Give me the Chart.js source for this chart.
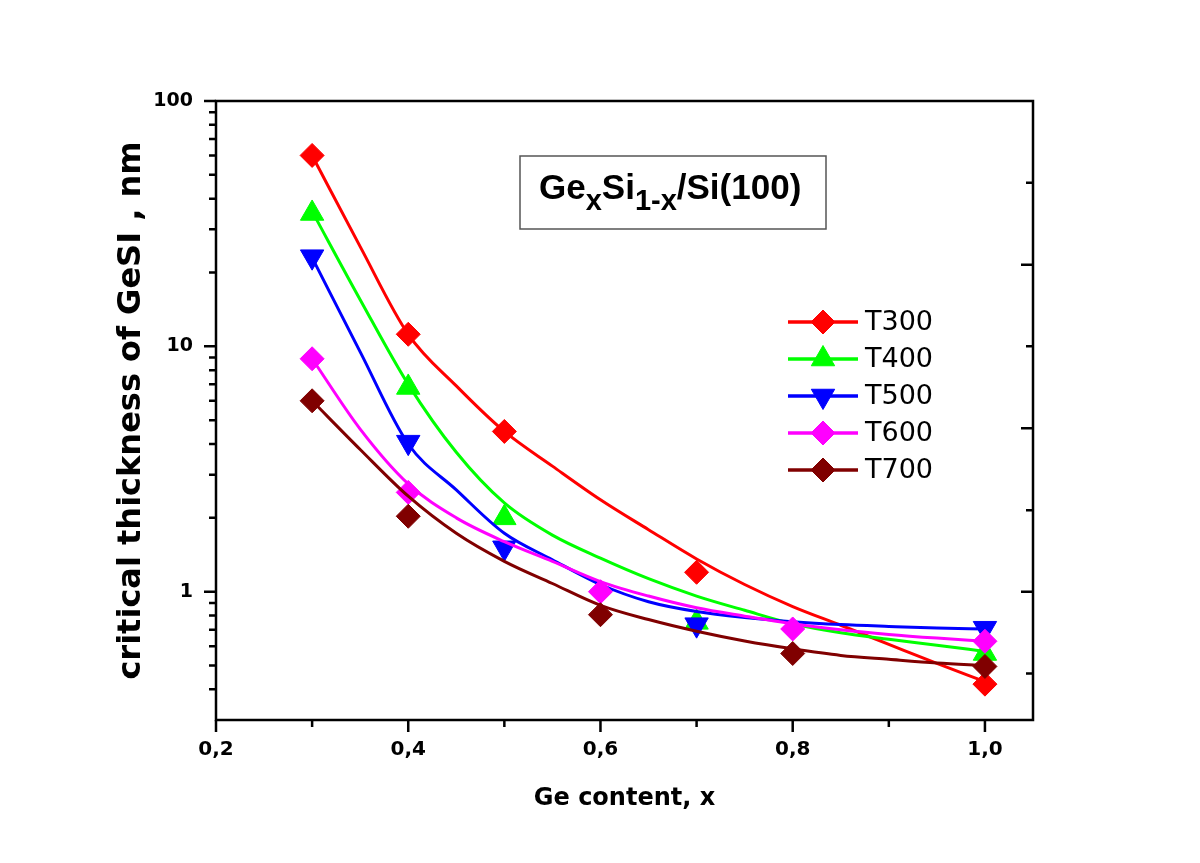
<!DOCTYPE html>
<html>
<head>
<meta charset="utf-8">
<script src="https://cdn.jsdelivr.net/npm/chart.js@4.4.1/dist/chart.umd.min.js"></script>
<style>
html,body{margin:0;padding:0;background:#ffffff;}
#wrap{width:1200px;height:863px;position:relative;}
</style>
</head>
<body>
<div id="wrap"><canvas id="c" width="1200" height="863"></canvas></div>
<script>
// ---------- data ----------
const seriesNames = ['T300', 'T400', 'T500', 'T600', 'T700'];

const t300X = [0.3, 0.4, 0.5, 0.7, 1.0];
const t300Y = [60, 11.2, 4.5, 1.2, 0.42];
const t400X = [0.3, 0.4, 0.5, 0.7, 1.0];
const t400Y = [34.8, 6.8, 2.0, 0.75, 0.56];
const t500X = [0.3, 0.4, 0.5, 0.7, 1.0];
const t500Y = [23.2, 4.07, 1.51, 0.734, 0.71];
const t600X = [0.3, 0.4, 0.6, 0.8, 1.0];
const t600Y = [8.9, 2.54, 1.0, 0.705, 0.628];
const t700X = [0.3, 0.4, 0.6, 0.8, 1.0];
const t700Y = [6.0, 2.03, 0.806, 0.56, 0.496];

// fitted curves
const fitX    = [0.30, 0.35, 0.40, 0.45, 0.50, 0.55, 0.60, 0.65, 0.70, 0.75, 0.80, 0.85, 0.90, 0.95, 1.00];
const t300Fit = [60, 25.5, 11.2, 6.9, 4.5, 3.25, 2.37, 1.79, 1.36, 1.07, 0.87, 0.73, 0.61, 0.51, 0.43];
const t400Fit = [35.5, 15.5, 7.0, 3.7, 2.3, 1.70, 1.37, 1.13, 0.96, 0.84, 0.74, 0.68, 0.64, 0.605, 0.571];
const t500Fit = [23, 9.5, 4.0, 2.6, 1.73, 1.35, 1.07, 0.91, 0.83, 0.785, 0.755, 0.735, 0.722, 0.711, 0.705];
const t600Fit = [8.9, 4.6, 2.75, 2.0, 1.6, 1.33, 1.1, 0.96, 0.86, 0.795, 0.74, 0.70, 0.67, 0.647, 0.628];
const t700Fit = [6.0, 3.8, 2.45, 1.73, 1.33, 1.08, 0.88, 0.77, 0.69, 0.63, 0.585, 0.55, 0.53, 0.512, 0.50];

// axis ticks
const xMajorTicks = [0.2, 0.4, 0.6, 0.8, 1.0];
const xMinorTicks = [0.3, 0.5, 0.7, 0.9];
const xTickLabels = ['0,2', '0,4', '0,6', '0,8', '1,0'];
const yMajorTicks = [1, 10, 100];
const yMinorTicks = [0.4, 0.5, 0.6, 0.7, 0.8, 0.9, 2, 3, 4, 5, 6, 7, 8, 9, 20, 30, 40, 50, 60, 70, 80, 90];
const yTickLabels = ['1', '10', '100'];
const rightMajorTicks = [1, 4.64, 21.5];
const rightMinorTicks = [0.464, 2.15, 10, 46.4];

const boxTitleRuns = [['Ge', false], ['x', true], ['Si', false], ['1-x', true], ['/Si(100)', false]];
const xTitle = 'Ge content, x';
const yTitle = 'critical thickness of GeSI , nm';

// ---------- styles ----------
const seriesColors = ['#ff0000', '#00ff00', '#0000ff', '#ff00ff', '#800000'];
const seriesSymbols = ['rectRot', 'triangle', 'triangle', 'rectRot', 'rectRot'];
const seriesRotation = [0, 0, 180, 0, 0];
const seriesRadius = [12, 13.5, 13.5, 12, 12];

const pointsX = [t300X, t400X, t500X, t600X, t700X];
const pointsY = [t300Y, t400Y, t500Y, t600Y, t700Y];
const fits = [t300Fit, t400Fit, t500Fit, t600Fit, t700Fit];

const datasets = [];
seriesNames.forEach((name, i) => {
  datasets.push({
    label: name + ' fit',
    data: fitX.map((x, j) => ({x: x, y: fits[i][j]})),
    showLine: true,
    borderColor: seriesColors[i],
    borderWidth: 3,
    pointRadius: 0,
    cubicInterpolationMode: 'monotone',
    fill: false,
    order: 20 - 2 * i
  });
  datasets.push({
    label: name,
    data: pointsX[i].map((x, j) => ({x: x, y: pointsY[i][j]})),
    showLine: false,
    pointStyle: seriesSymbols[i],
    pointRotation: seriesRotation[i],
    pointRadius: seriesRadius[i],
    pointBackgroundColor: seriesColors[i],
    pointBorderColor: seriesColors[i],
    pointBorderWidth: 1,
    order: 19 - 2 * i
  });
});

function drawMarker(ctx, style, rotation, radius, x, y) {
  if (Chart.helpers && Chart.helpers.drawPoint) {
    Chart.helpers.drawPoint(ctx, {pointStyle: style, rotation: rotation, radius: radius, borderWidth: 1}, x, y);
    return;
  }
  ctx.beginPath();
  if (style === 'rectRot') {
    ctx.moveTo(x - radius, y); ctx.lineTo(x, y - radius); ctx.lineTo(x + radius, y); ctx.lineTo(x, y + radius);
  } else {
    const s = rotation === 180 ? -1 : 1;
    ctx.moveTo(x, y - s * radius);
    ctx.lineTo(x + radius * Math.sqrt(3) / 2, y + s * radius / 2);
    ctx.lineTo(x - radius * Math.sqrt(3) / 2, y + s * radius / 2);
  }
  ctx.closePath(); ctx.fill(); ctx.stroke();
}

const framePlugin = {
  id: 'frameTicks',
  afterDraw(chart) {
    const ctx = chart.ctx;
    const a = chart.chartArea;
    const xs = chart.scales.x, ys = chart.scales.y;
    ctx.save();
    ctx.strokeStyle = '#000';
    ctx.lineWidth = 2.5;
    ctx.strokeRect(a.left, a.top, a.right - a.left, a.bottom - a.top);
    ctx.lineCap = 'butt';
    ctx.beginPath();
    xMajorTicks.forEach(v => { const p = xs.getPixelForValue(v); ctx.moveTo(p, a.bottom); ctx.lineTo(p, a.bottom + 12); });
    xMinorTicks.forEach(v => { const p = xs.getPixelForValue(v); ctx.moveTo(p, a.bottom); ctx.lineTo(p, a.bottom + 7); });
    yMajorTicks.forEach(v => { const p = ys.getPixelForValue(v); ctx.moveTo(a.left, p); ctx.lineTo(a.left - 12, p); });
    yMinorTicks.forEach(v => { const p = ys.getPixelForValue(v); ctx.moveTo(a.left, p); ctx.lineTo(a.left - 7, p); });
    rightMajorTicks.forEach(v => { const p = ys.getPixelForValue(v); ctx.moveTo(a.right, p); ctx.lineTo(a.right - 12, p); });
    rightMinorTicks.forEach(v => { const p = ys.getPixelForValue(v); ctx.moveTo(a.right, p); ctx.lineTo(a.right - 7, p); });
    ctx.stroke();
    ctx.restore();
  }
};

const overlayPlugin = {
  id: 'overlay',
  afterDatasetsDraw(chart) {
    const ctx = chart.ctx;
    const a = chart.chartArea;
    ctx.save();
    // title box
    const bx = a.left + 304, by = a.top + 55, bw = 306, bh = 73;
    ctx.fillStyle = '#fff';
    ctx.fillRect(bx, by, bw, bh);
    ctx.strokeStyle = '#555';
    ctx.lineWidth = 1.5;
    ctx.strokeRect(bx, by, bw, bh);
    ctx.fillStyle = '#000';
    ctx.textBaseline = 'alphabetic';
    ctx.textAlign = 'left';
    let tx = bx + 19;
    const base = by + 43;
    boxTitleRuns.forEach(r => {
      ctx.font = r[1] ? 'bold 29px "Liberation Sans", Arial, sans-serif' : 'bold 35px "Liberation Sans", Arial, sans-serif';
      ctx.fillText(r[0], tx, r[1] ? base + 11 : base);
      tx += ctx.measureText(r[0]).width;
    });
    // legend
    const lx0 = a.left + 572, lx1 = a.left + 642, mx = a.left + 607, textX = a.left + 649;
    seriesNames.forEach((name, i) => {
      const y = a.top + 221 + 37 * i;
      ctx.strokeStyle = seriesColors[i];
      ctx.lineWidth = 3.5;
      ctx.beginPath(); ctx.moveTo(lx0, y); ctx.lineTo(lx1, y); ctx.stroke();
      ctx.fillStyle = seriesColors[i];
      ctx.lineWidth = 1;
      drawMarker(ctx, seriesSymbols[i], seriesRotation[i], seriesRadius[i], mx, y);
      ctx.fillStyle = '#000';
      ctx.font = '27px "DejaVu Sans", sans-serif';
      ctx.textBaseline = 'middle';
      ctx.fillText(name, textX, y + 1);
    });
    ctx.restore();
  }
};

Chart.defaults.font.family = '"DejaVu Sans", sans-serif';
Chart.defaults.color = '#000';

new Chart(document.getElementById('c'), {
  type: 'scatter',
  data: {datasets: datasets},
  options: {
    responsive: false,
    animation: false,
    devicePixelRatio: 1,
    layout: {padding: {left: 0, top: 101, right: 167, bottom: 0}},
    plugins: {legend: {display: false}, tooltip: {enabled: false}},
    scales: {
      x: {
        type: 'linear',
        min: 0.2,
        max: 1.05,
        afterBuildTicks: s => { s.ticks = xMajorTicks.map(v => ({value: v})); },
        afterFit: s => { s.height = 143; },
        grid: {display: false, drawTicks: false},
        border: {display: false},
        ticks: {
          autoSkip: false, maxRotation: 0, padding: 18,
          font: {size: 20, weight: 'bold'}, color: '#000',
          callback: (v, i) => xTickLabels[i]
        },
        title: {display: true, text: xTitle, font: {size: 24, weight: 'bold'}, color: '#000', padding: {top: 0, bottom: 50}}
      },
      y: {
        type: 'logarithmic',
        min: 0.3,
        max: 100,
        afterBuildTicks: s => { s.ticks = yMajorTicks.map(v => ({value: v})); },
        afterFit: s => { s.width = 216; },
        grid: {display: false, drawTicks: false},
        border: {display: false},
        ticks: {
          autoSkip: false, padding: 23,
          font: {size: 19, weight: 'bold'}, color: '#000',
          callback: (v, i) => yTickLabels[i]
        },
        title: {display: true, text: yTitle, font: {size: 32, weight: 'bold'}, color: '#000', padding: {top: 112, bottom: 0}}
      }
    }
  },
  plugins: [framePlugin, overlayPlugin]
});
</script>
</body>
</html>
